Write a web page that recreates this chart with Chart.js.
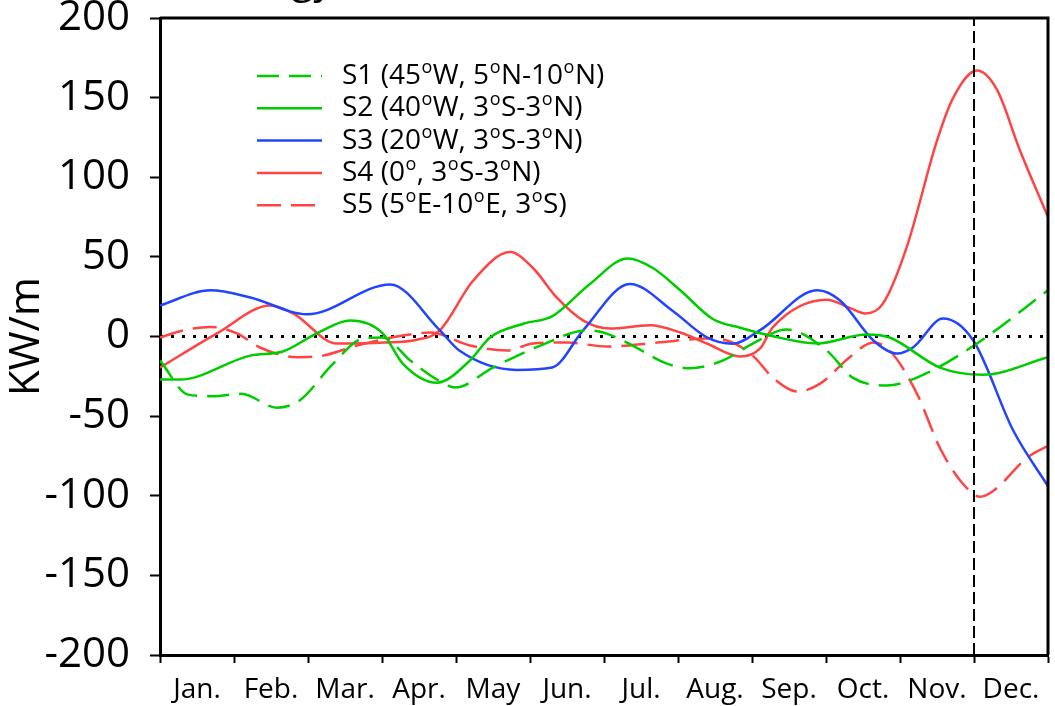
<!DOCTYPE html>
<html>
<head>
<meta charset="utf-8">
<script src="https://cdn.jsdelivr.net/npm/chart.js@4.4.1/dist/chart.umd.min.js"></script>
<style>
  html, body { margin: 0; padding: 0; background: #fff; }
</style>
</head>
<body>
<canvas id="chart" width="1055" height="706"></canvas>
<script>
// month labels sit between the integer ticks (0 = start of Jan., 12 = end of Dec.)
const monthLabels = ['Jan.', 'Feb.', 'Mar.', 'Apr.', 'May', 'Jun.', 'Jul.', 'Aug.', 'Sep.', 'Oct.', 'Nov.', 'Dec.']

// S1 (45W, 5N-10N), green dashed
const s1Month = [0, 0.38, 0.72, 1.1, 1.58, 1.89, 2.34, 2.74, 3.01, 3.38, 3.74, 3.99, 4.5, 5.14, 5.77, 5.99, 6.31, 6.85, 7.16, 7.61, 8.01, 8.47, 9.01, 9.36, 9.82, 10.36, 11.04, 12]
const s1Value = [-15, -36.5, -37.5, -36, -44.7, -40, -17, -1.3, -0.6, -15, -27, -32, -19.5, -5.7, 3.8, 2.5, -3.8, -17, -20, -15, -4.4, 4.4, -8.8, -25.8, -30.8, -23, -4.4, 29]

// S2 (40W, 3S-3N), green solid
const s2Month = [0, 0.27, 1.22, 1.66, 2.12, 2.57, 3.01, 3.28, 3.74, 4.19, 4.46, 4.91, 5.31, 5.81, 6.32, 6.66, 7.03, 7.47, 7.84, 8.3, 8.88, 9.55, 9.86, 10.54, 11.12, 12]
const s2Value = [-27, -27, -12, -9.4, 2, 10, 2, -17, -29, -15, -0.6, 8, 13, 33, 49, 43, 29, 11, 5.5, 0, -4.4, 1.3, -0.6, -19.5, -24, -13]

// S3 (20W, 3S-3N), blue solid
const s3Month = [0, 0.68, 1.22, 1.99, 3.11, 3.78, 4.05, 4.82, 5.3, 5.72, 6.35, 6.93, 7.39, 7.74, 8.11, 8.88, 9.19, 9.64, 9.96, 10.18, 10.58, 10.99, 11.53, 12]
const s3Value = [19.5, 29, 24.5, 14, 32.7, 4, -9, -21, -19.5, 4, 33, 16, -0.5, -4.5, 4, 29, 22.6, -2.5, -10.7, -6.7, 11.3, -2.5, -59, -94]

// S4 (0, 3S-3N), red solid
const s4Month = [0, 0.77, 1.49, 1.8, 2.39, 3.03, 3.47, 3.78, 4.23, 4.73, 5.04, 5.36, 5.72, 6.08, 6.62, 7.03, 7.39, 7.84, 8.11, 8.28, 9.01, 9.32, 9.53, 9.77, 10.09, 10.5, 10.72, 11.04, 11.31, 11.62, 12]
const s4Value = [-19.5, 2, 19.5, 14.5, -4.4, -3.8, -2, 3.8, 35, 53, 43, 24.5, 10, 5, 7, 2.5, -4.4, -12.6, -7.5, 5.7, 23, 18, 14.5, 20.7, 56, 123, 150, 167, 155, 117, 75]

// S5 (5E-10E, 3S), red dashed
const s5Month = [0, 0.31, 0.68, 1.04, 1.35, 1.85, 2.2, 2.66, 3.28, 3.65, 4.19, 4.69, 5.04, 5.5, 6.04, 6.72, 7.39, 7.66, 8.01, 8.28, 8.61, 8.92, 9.32, 9.64, 9.86, 10.23, 10.54, 10.85, 11.08, 11.26, 11.72, 12]
const s5Value = [-0.6, 3.8, 6, 2, -6.9, -13, -12, -5.7, 0.6, 2.5, -5.7, -8.8, -4.4, -3.8, -6.3, -3.8, -1.3, -2.5, -12, -25.8, -34.6, -29.6, -13, -3.8, -8.8, -36, -70, -92.5, -100.6, -97, -76, -68.6]

// reference lines
const zeroLineMonth = [0, 12]
const zeroLineValue = [0, 0]
const markerMonth = [11, 11]
const markerValue = [-200, 200]

const green = '#00cc00'
const blue = '#2244ff'
const red = '#ff4444'

function toPoints(months, values) {
  return months.map(function(m, i) {
    return { x: m, y: values[i] }
  })
}

function curve(label, months, values, color, dash) {
  return {
    label: label,
    legendText: label,
    data: toPoints(months, values),
    borderColor: color,
    borderWidth: 2.5,
    borderDash: dash,
    pointRadius: 0,
    tension: 0.4,
    cubicInterpolationMode: 'monotone',
    fill: false
  }
}

// legend drawn inside the plot, with raised "o" for degrees
const insideLegend = {
  id: 'insideLegend',
  afterDatasetsDraw(chart) {
    const ctx = chart.ctx
    const area = chart.chartArea
    const lineX = area.left + 97
    const lineLen = 65
    const textX = area.left + 182
    const firstY = area.top + 58
    const step = 32.3
    ctx.save()
    chart.data.datasets.filter(d => d.legendText).forEach(function(d, i) {
      const y = firstY + i * step
      ctx.strokeStyle = d.borderColor
      ctx.lineWidth = 2.5
      ctx.setLineDash(d.borderDash || [])
      ctx.beginPath()
      ctx.moveTo(lineX, y)
      ctx.lineTo(lineX + lineLen, y)
      ctx.stroke()
      ctx.setLineDash([])
      ctx.fillStyle = '#000'
      ctx.textBaseline = 'middle'
      ctx.textAlign = 'left'
      let x = textX
      const parts = d.legendText.split('º')
      parts.forEach(function(part, j) {
        ctx.font = '28px "Open Sans"'
        ctx.fillText(part, x, y)
        x += ctx.measureText(part).width
        if (j < parts.length - 1) {
          ctx.font = '18px "Open Sans"'
          ctx.fillText('o', x + 0.5, y - 8)
          x += ctx.measureText('o').width + 1
        }
      })
    })
    ctx.restore()
  }
}

// top and right edges of the plot box, plus the clipped panel title
const frame = {
  id: 'frame',
  afterDraw(chart) {
    const ctx = chart.ctx
    const a = chart.chartArea
    ctx.save()
    ctx.strokeStyle = '#000'
    ctx.lineWidth = 3
    ctx.beginPath()
    ctx.moveTo(a.left, a.top)
    ctx.lineTo(a.right, a.top)
    ctx.lineTo(a.right, a.bottom)
    ctx.stroke()
    ctx.fillStyle = '#000'
    ctx.font = '40px "Open Sans"'
    ctx.textBaseline = 'alphabetic'
    ctx.fillText('(a) Energy', 150, -7)
    ctx.restore()
  }
}

const xTickValues = []
for (let v = 0; v <= 12; v += 0.5) xTickValues.push(v)

const ctx = document.getElementById('chart').getContext('2d')
const chart = new Chart(ctx, {
  type: 'line',
  data: {
    datasets: [
      {
        data: toPoints(markerMonth, markerValue),
        borderColor: '#000',
        borderWidth: 2,
        borderDash: [12, 5],
        pointRadius: 0,
        tension: 0
      },
      curve('S1 (45ºW, 5ºN-10ºN)', s1Month, s1Value, green, [22, 10]),
      curve('S2 (40ºW, 3ºS-3ºN)', s2Month, s2Value, green),
      curve('S3 (20ºW, 3ºS-3ºN)', s3Month, s3Value, blue),
      curve('S4 (0º, 3ºS-3ºN)', s4Month, s4Value, red),
      curve('S5 (5ºE-10ºE, 3ºS)', s5Month, s5Value, red, [24, 10]),
      {
        data: toPoints(zeroLineMonth, zeroLineValue),
        borderColor: '#000',
        borderWidth: 3,
        borderDash: [3, 8],
        pointRadius: 0,
        tension: 0
      }
    ]
  },
  options: {
    responsive: false,
    animation: false,
    layout: { padding: { top: 18, right: 7, left: 0, bottom: 0 } },
    plugins: {
      legend: { display: false },
      tooltip: { enabled: false }
    },
    scales: {
      x: {
        type: 'linear',
        min: 0,
        max: 12,
        afterBuildTicks: function(scale) {
          scale.ticks = xTickValues.map(v => ({ value: v }))
        },
        afterFit: function(scale) {
          scale.height = 51
          scale.paddingLeft = 0
          scale.paddingRight = 0
        },
        grid: {
          drawOnChartArea: false,
          drawTicks: true,
          tickLength: 8,
          tickWidth: 2,
          tickColor: c => Number.isInteger(c.tick.value) ? '#000' : 'rgba(0,0,0,0)'
        },
        border: { display: true, color: '#000', width: 3 },
        ticks: {
          autoSkip: false,
          maxRotation: 0,
          padding: 10,
          color: '#000',
          font: { family: 'Open Sans', size: 28 },
          callback: v => Number.isInteger(v) ? '' : monthLabels[Math.floor(v)]
        }
      },
      y: {
        min: -200,
        max: 200,
        afterFit: function(scale) {
          scale.width = 160
          scale.paddingTop = 0
          scale.paddingBottom = 0
        },
        grid: {
          drawOnChartArea: false,
          drawTicks: true,
          tickLength: 10,
          tickWidth: 2,
          tickColor: '#000'
        },
        border: { display: true, color: '#000', width: 3 },
        ticks: {
          stepSize: 50,
          padding: 20,
          color: '#000',
          font: { family: 'Open Sans', size: 42 }
        },
        title: {
          display: true,
          text: 'KW/m',
          color: '#000',
          font: { family: 'Open Sans', size: 42 },
          padding: { top: 2, bottom: 0 }
        }
      }
    }
  },
  plugins: [insideLegend, frame]
})
</script>
</body>
</html>
